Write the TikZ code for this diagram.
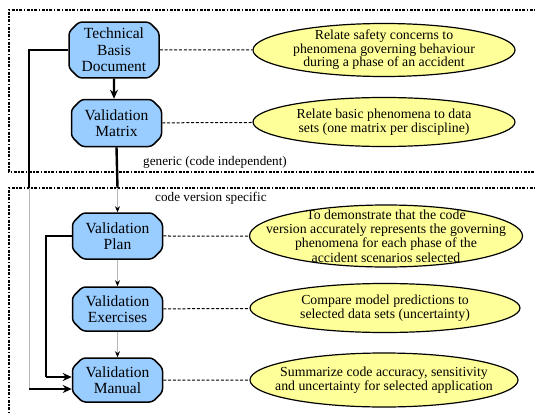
\documentclass[tikz,border=0pt]{standalone}
\usepackage{fontspec}
\setmainfont{Liberation Serif}
\usetikzlibrary{shapes.misc,shapes.geometric,arrows.meta}
\definecolor{boxblue}{HTML}{99CCFF}
\definecolor{ellyellow}{HTML}{FFFF99}
\definecolor{thingray}{HTML}{B8B8B8}
\tikzset{
  stepbox/.style={chamfered rectangle, chamfered rectangle xsep=5pt, chamfered rectangle ysep=5pt,
    rounded corners=3pt, draw=black, line width=1.5pt, fill=boxblue, minimum width=90pt,
    minimum height=45pt, inner sep=1pt, align=center, font=\fontsize{15.5}{16.5}\selectfont},
  goal/.style={ellipse, draw=black, line width=1.2pt, fill=ellyellow, inner sep=0pt},
  goaltext/.style={align=center, inner sep=0pt, font=\fontsize{13.8}{13.5}\selectfont},
  frame/.style={line width=1.2pt, dash pattern=on 3pt off 1.5pt on 1.5pt off 1.5pt},
  link/.style={line width=1pt, dash pattern=on 3pt off 1.8pt},
  thickline/.style={line width=2.4pt},
  thickarrow/.style={line width=2.4pt, -{Stealth[length=9pt,width=8pt]}},
  thinarrow/.style={line width=0.7pt, draw=thingray, -{Stealth[length=6pt,width=5pt,color=black]}},
  lbl/.style={anchor=west, inner sep=0pt, font=\fontsize{13.2}{14}\selectfont}
}
\begin{document}
\begin{tikzpicture}[x=1pt,y=-1pt]
\useasboundingbox (0,0) rectangle (535,412);
% frames
\draw[frame] (540,10) -- (9,10) -- (9,172) -- (540,172);
\draw[frame] (540,188) -- (9,188) -- (9,420);
\node[lbl] (gen) at (143,162) {generic (code independent)};
\node[lbl] (spec) at (155,198) {code version specific};
% boxes
\node[stepbox, minimum height=51pt] (tbd) at (114,50) {Technical\\Basis\\Document};
\node[stepbox, minimum height=47pt] (vm) at (116.5,123) {Validation\\Matrix};
\node[stepbox, minimum height=46pt] (plan) at (117.5,236) {Validation\\Plan};
\node[stepbox, minimum height=44pt] (exer) at (117.5,309) {Validation\\Exercises};
\node[stepbox, minimum height=44pt] (man) at (117.5,380) {Validation\\Manual};
% ellipses
\node[goal, minimum width=262pt, minimum height=53pt,
  label={[goaltext]center:Relate safety concerns to\\phenomena governing behaviour\\during a phase of an accident}] (e1) at (384,50) {};
\node[goal, minimum width=262pt, minimum height=49pt,
  label={[goaltext]center:Relate basic phenomena to data\\sets (one matrix per discipline)}] (e2) at (384,122) {};
\node[goal, minimum width=273pt, minimum height=62pt,
  label={[goaltext, font=\fontsize{13.8}{14.2}\selectfont]center:To demonstrate that the code\\version accurately represents the governing\\phenomena for each phase of the\\accident scenarios selected}] (e3) at (386,236) {};
\node[goal, minimum width=270pt, minimum height=49pt,
  label={[goaltext]center:Compare model predictions to\\selected data sets (uncertainty)}] (e4) at (385,308) {};
\node[goal, minimum width=268pt, minimum height=54pt,
  label={[goaltext]center:Summarize code accuracy, sensitivity\\and uncertainty for selected application}] (e5) at (384,380) {};
% dashed links
\draw[link] (tbd) -- (e1);
\draw[link] (vm) -- (e2);
\draw[link] (plan) -- (e3);
\draw[link] (exer) -- (e4);
\draw[link] (man) -- (e5);
% flow
\draw[thickarrow] (tbd) -- (tbd.south |- vm.north);
\coordinate (vmd) at (117.5,188);
\draw[thickline] (vm.south) -- (vmd);
\draw[thinarrow] (vmd) -- (plan.north);
\draw[thinarrow] (plan) -- (exer);
\draw[thinarrow] (exer) -- (man);
\coordinate (lt) at (29,50);
\coordinate (lm) at (29,188);
\coordinate (lb) at (29,389);
\draw[thickline] (tbd.west) -- (lt) -- (lm);
\draw[line width=0.7pt, draw=thingray] (lm) -- (lb);
\draw[thickarrow] (lb) -- (lb -| man.west);
\coordinate (pl) at (46,236);
\coordinate (pb) at (46,377);
\draw[line width=1.6pt] (plan.west) -- (pl) -- (pb);
\draw[thickarrow] (pb) -- (pb -| man.west);
\end{tikzpicture}
\end{document}
